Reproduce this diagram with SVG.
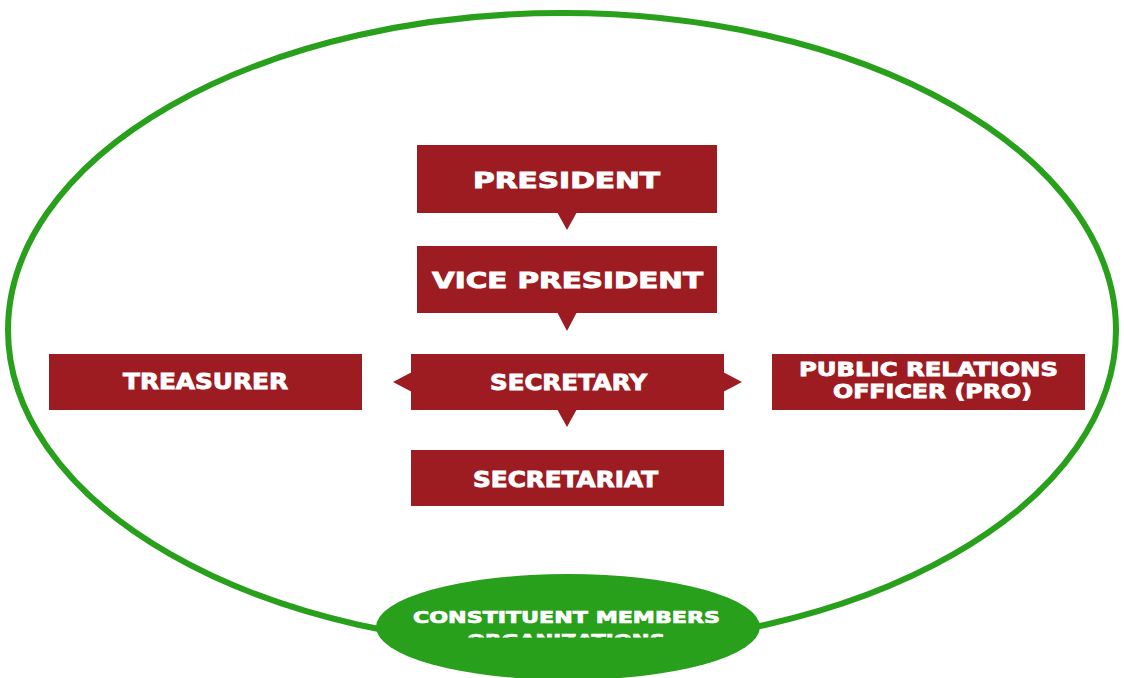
<svg xmlns="http://www.w3.org/2000/svg" width="1124" height="678" viewBox="0 0 1124 678">
<style>
.box{fill:#9d1c22}
.lbl{fill:#ffffff;stroke:#ffffff;stroke-width:0.9px;font-family:"DejaVu Sans",sans-serif;font-weight:bold;font-size:21.5px;text-anchor:middle}
.sm{font-size:19px;stroke-width:0.8px}
.gr{font-size:15.5px;stroke-width:0.7px}
</style>
<defs>
<clipPath id="cmclip"><rect x="380" y="600" width="380" height="37.5"/></clipPath>
</defs>
<rect width="1124" height="678" fill="#ffffff"/>
<g id="frame">
<ellipse cx="562" cy="330" rx="554" ry="317" fill="none" stroke="#28a01c" stroke-width="6"/>
</g>
<g id="connectors" class="box">
<polygon points="557,212 577,212 567,230"/>
<polygon points="557,312 577,312 567,331"/>
<polygon points="412,372 412,392 393,382"/>
<polygon points="723,372 723,392 742,382"/>
<polygon points="557,409 577,409 567,427"/>
</g>
<g id="president">
<rect class="box" x="417" y="145" width="300" height="68"/>
<text class="lbl" x="566.5" y="188" textLength="187" lengthAdjust="spacingAndGlyphs">PRESIDENT</text>
</g>
<g id="vice-president">
<rect class="box" x="417" y="246" width="300" height="67"/>
<text class="lbl" x="567.5" y="288" textLength="271" lengthAdjust="spacingAndGlyphs">VICE PRESIDENT</text>
</g>
<g id="secretary">
<rect class="box" x="411" y="354" width="313" height="56"/>
<text class="lbl" x="568.5" y="390" textLength="157" lengthAdjust="spacingAndGlyphs">SECRETARY</text>
</g>
<g id="treasurer">
<rect class="box" x="49" y="354" width="313" height="56"/>
<text class="lbl" x="205.5" y="389" textLength="165" lengthAdjust="spacingAndGlyphs">TREASURER</text>
</g>
<g id="pro">
<rect class="box" x="772" y="354" width="313" height="56"/>
<text class="lbl sm" x="928.5" y="376" textLength="259" lengthAdjust="spacingAndGlyphs">PUBLIC RELATIONS</text>
<text class="lbl sm" x="932.5" y="398" textLength="199" lengthAdjust="spacingAndGlyphs">OFFICER (PRO)</text>
</g>
<g id="secretariat">
<rect class="box" x="411" y="450" width="313" height="56"/>
<text class="lbl" x="565.5" y="487" textLength="185" lengthAdjust="spacingAndGlyphs">SECRETARIAT</text>
</g>
<g id="constituent">
<ellipse cx="568" cy="627" rx="192" ry="53" fill="#28a01c"/>
<text class="lbl gr" x="566.5" y="623" textLength="307" lengthAdjust="spacingAndGlyphs">CONSTITUENT MEMBERS</text>
<text class="lbl gr" x="566" y="645.5" textLength="198" lengthAdjust="spacingAndGlyphs" clip-path="url(#cmclip)">ORGANIZATIONS</text>
</g>
</svg>
